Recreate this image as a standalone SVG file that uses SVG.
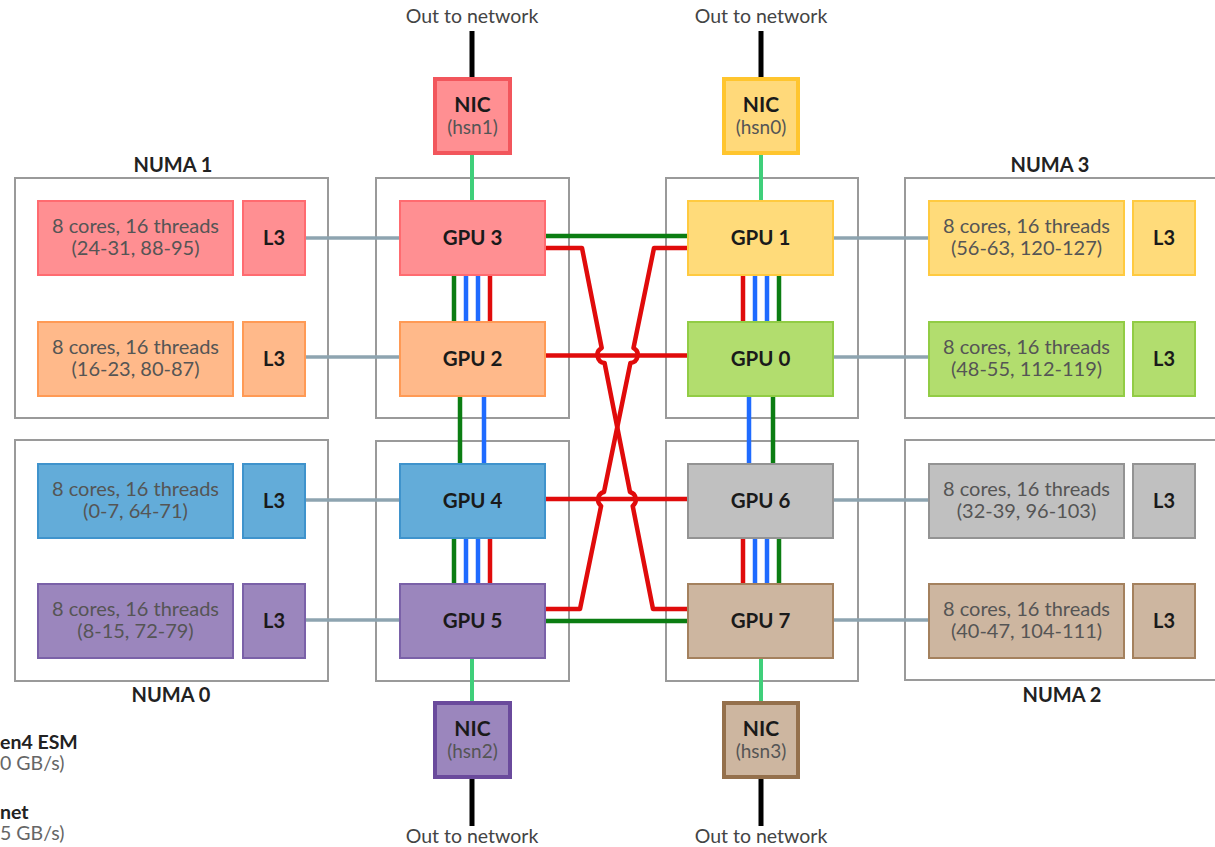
<svg xmlns="http://www.w3.org/2000/svg" width="1215" height="847" viewBox="0 0 1215 847">
<style>
text{font-family:Lato,"Open Sans","Liberation Sans",sans-serif}
.numa{fill:#fff;stroke:#9a9a9a;stroke-width:2}
.nl{font-size:20px;font-weight:bold;fill:#222;text-anchor:middle}
.gl{font-size:20.5px;font-weight:bold;fill:#1a1a1a;text-anchor:middle}
.l3{font-size:20px;font-weight:bold;fill:#1a1a1a;text-anchor:middle}
.ct{font-size:20px;fill:#555;text-anchor:middle}
.nic{font-size:21px;font-weight:bold;fill:#1a1a1a;text-anchor:middle}
.hsn{font-size:19px;fill:#555;text-anchor:middle}
.out{font-size:19.5px;fill:#444;text-anchor:middle}
.b{stroke-width:2}
.red{fill:#ff8f92;stroke:#ff6b70}
.org{fill:#ffb98a;stroke:#ff9a55}
.blu{fill:#63acd9;stroke:#3f93cc}
.pur{fill:#9b86bd;stroke:#7a61a8}
.yel{fill:#ffdb7a;stroke:#ffca40}
.grn{fill:#b2dd6e;stroke:#92cc45}
.gry{fill:#c0c0c0;stroke:#939393}
.brn{fill:#cdb6a0;stroke:#a4815e}
.cg{stroke:#8ea4b0;stroke-width:3.5;fill:none}
.lg{stroke:#0b7d12;stroke-width:4.5;fill:none}
.lb{stroke:#1f6bff;stroke-width:4.5;fill:none}
.lr{stroke:#e00b0b;stroke-width:4.5;fill:none;stroke-linejoin:round}
.nicg{stroke:#3fcf7a;stroke-width:4}
.blk{stroke:#000;stroke-width:5}
.lgb{font-size:19.5px;font-weight:bold;fill:#222}
.lgr{font-size:19.5px;fill:#666}
</style>

<!-- NUMA regions -->
<g id="numa-regions">
<rect class="numa" x="15" y="178" width="313" height="240"/>
<rect class="numa" x="15" y="440" width="313" height="241"/>
<rect class="numa" x="376" y="178" width="193" height="240"/>
<rect class="numa" x="376" y="441" width="193" height="240"/>
<rect class="numa" x="666" y="178" width="192" height="240"/>
<rect class="numa" x="666" y="441" width="192" height="240"/>
<rect class="numa" x="905" y="178" width="320" height="240"/>
<rect class="numa" x="905" y="440" width="320" height="240"/>
<text class="nl" x="173" y="172">NUMA 1</text>
<text class="nl" x="1050" y="172">NUMA 3</text>
<text class="nl" x="171" y="702">NUMA 0</text>
<text class="nl" x="1062" y="702">NUMA 2</text>
</g>

<!-- connectors -->
<g id="connectors">
<line class="blk" x1="472" y1="31" x2="472" y2="79"/>
<line class="blk" x1="761" y1="31" x2="761" y2="79"/>
<line class="blk" x1="472" y1="777" x2="472" y2="826"/>
<line class="blk" x1="761" y1="777" x2="761" y2="826"/>
<line class="nicg" x1="472" y1="153" x2="472" y2="201"/>
<line class="nicg" x1="761" y1="153" x2="761" y2="201"/>
<line class="nicg" x1="472" y1="658" x2="472" y2="703"/>
<line class="nicg" x1="761" y1="658" x2="761" y2="703"/>
<line class="cg" x1="305" y1="238" x2="400" y2="238"/>
<line class="cg" x1="305" y1="357" x2="400" y2="357"/>
<line class="cg" x1="305" y1="500" x2="400" y2="500"/>
<line class="cg" x1="305" y1="620" x2="400" y2="620"/>
<line class="cg" x1="833" y1="238" x2="929" y2="238"/>
<line class="cg" x1="833" y1="357" x2="929" y2="357"/>
<line class="cg" x1="833" y1="500" x2="929" y2="500"/>
<line class="cg" x1="833" y1="620" x2="929" y2="620"/>
<line class="lg" x1="454" y1="275" x2="454" y2="322"/>
<line class="lb" x1="466" y1="275" x2="466" y2="322"/>
<line class="lb" x1="478" y1="275" x2="478" y2="322"/>
<line class="lr" x1="490" y1="275" x2="490" y2="322"/>
<line class="lg" x1="460" y1="396" x2="460" y2="464"/>
<line class="lb" x1="484" y1="396" x2="484" y2="464"/>
<line class="lg" x1="454" y1="538" x2="454" y2="584"/>
<line class="lb" x1="466" y1="538" x2="466" y2="584"/>
<line class="lb" x1="478" y1="538" x2="478" y2="584"/>
<line class="lr" x1="490" y1="538" x2="490" y2="584"/>
<line class="lr" x1="743" y1="275" x2="743" y2="322"/>
<line class="lb" x1="755" y1="275" x2="755" y2="322"/>
<line class="lb" x1="767" y1="275" x2="767" y2="322"/>
<line class="lg" x1="779" y1="275" x2="779" y2="322"/>
<line class="lb" x1="749" y1="396" x2="749" y2="464"/>
<line class="lg" x1="773" y1="396" x2="773" y2="464"/>
<line class="lr" x1="743" y1="538" x2="743" y2="584"/>
<line class="lb" x1="755" y1="538" x2="755" y2="584"/>
<line class="lb" x1="767" y1="538" x2="767" y2="584"/>
<line class="lg" x1="779" y1="538" x2="779" y2="584"/>
<line class="lg" x1="545" y1="236" x2="688" y2="236"/>
<line class="lr" x1="545" y1="355.5" x2="688" y2="355.5"/>
<line class="lr" x1="545" y1="499" x2="688" y2="499"/>
<line class="lg" x1="545" y1="621" x2="688" y2="621"/>
<path class="lr" d="M545,248 H582 L601.7,348 A8 8 0 0 0 604.6,363 L630,492 A8 8 0 0 1 632.7,506 L653,609 H688"/>
<path class="lr" d="M688,248 H654 L633.5,348 A8 8 0 0 1 630.4,363 L604,492 A8 8 0 0 0 601.1,506 L580,609 H545"/>
</g>

<g id="cores-24-31"><rect class="b red" x="38" y="201" width="195" height="74"/><text class="ct" x="135.5" y="233">8 cores, 16 threads</text><text class="ct" x="135.5" y="255">(24-31, 88-95)</text></g>
<g id="l3-a"><rect class="b red" x="243" y="201" width="62" height="74"/><text class="l3" x="274" y="245">L3</text></g>
<g id="cores-16-23"><rect class="b org" x="38" y="322" width="195" height="74"/><text class="ct" x="135.5" y="354">8 cores, 16 threads</text><text class="ct" x="135.5" y="376">(16-23, 80-87)</text></g>
<g id="l3-b"><rect class="b org" x="243" y="322" width="62" height="74"/><text class="l3" x="274" y="366">L3</text></g>
<g id="cores-0-7"><rect class="b blu" x="38" y="464" width="195" height="74"/><text class="ct" x="135.5" y="496">8 cores, 16 threads</text><text class="ct" x="135.5" y="518">(0-7, 64-71)</text></g>
<g id="l3-c"><rect class="b blu" x="243" y="464" width="62" height="74"/><text class="l3" x="274" y="508">L3</text></g>
<g id="cores-8-15"><rect class="b pur" x="38" y="584" width="195" height="74"/><text class="ct" x="135.5" y="616">8 cores, 16 threads</text><text class="ct" x="135.5" y="638">(8-15, 72-79)</text></g>
<g id="l3-d"><rect class="b pur" x="243" y="584" width="62" height="74"/><text class="l3" x="274" y="628">L3</text></g>
<g id="cores-56-63"><rect class="b yel" x="929" y="201" width="195" height="74"/><text class="ct" x="1026.5" y="233">8 cores, 16 threads</text><text class="ct" x="1026.5" y="255">(56-63, 120-127)</text></g>
<g id="l3-e"><rect class="b yel" x="1133" y="201" width="62" height="74"/><text class="l3" x="1164" y="245">L3</text></g>
<g id="cores-48-55"><rect class="b grn" x="929" y="322" width="195" height="74"/><text class="ct" x="1026.5" y="354">8 cores, 16 threads</text><text class="ct" x="1026.5" y="376">(48-55, 112-119)</text></g>
<g id="l3-f"><rect class="b grn" x="1133" y="322" width="62" height="74"/><text class="l3" x="1164" y="366">L3</text></g>
<g id="cores-32-39"><rect class="b gry" x="929" y="464" width="195" height="74"/><text class="ct" x="1026.5" y="496">8 cores, 16 threads</text><text class="ct" x="1026.5" y="518">(32-39, 96-103)</text></g>
<g id="l3-g"><rect class="b gry" x="1133" y="464" width="62" height="74"/><text class="l3" x="1164" y="508">L3</text></g>
<g id="cores-40-47"><rect class="b brn" x="929" y="584" width="195" height="74"/><text class="ct" x="1026.5" y="616">8 cores, 16 threads</text><text class="ct" x="1026.5" y="638">(40-47, 104-111)</text></g>
<g id="l3-h"><rect class="b brn" x="1133" y="584" width="62" height="74"/><text class="l3" x="1164" y="628">L3</text></g>

<g id="gpu3"><rect class="b red" x="400" y="201" width="145" height="74"/><text class="gl" x="472.5" y="245">GPU 3</text></g>
<g id="gpu2"><rect class="b org" x="400" y="322" width="145" height="74"/><text class="gl" x="472.5" y="366">GPU 2</text></g>
<g id="gpu4"><rect class="b blu" x="400" y="464" width="145" height="74"/><text class="gl" x="472.5" y="508">GPU 4</text></g>
<g id="gpu5"><rect class="b pur" x="400" y="584" width="145" height="74"/><text class="gl" x="472.5" y="628">GPU 5</text></g>
<g id="gpu1"><rect class="b yel" x="688" y="201" width="145" height="74"/><text class="gl" x="760.5" y="245">GPU 1</text></g>
<g id="gpu0"><rect class="b grn" x="688" y="322" width="145" height="74"/><text class="gl" x="760.5" y="366">GPU 0</text></g>
<g id="gpu6"><rect class="b gry" x="688" y="464" width="145" height="74"/><text class="gl" x="760.5" y="508">GPU 6</text></g>
<g id="gpu7"><rect class="b brn" x="688" y="584" width="145" height="74"/><text class="gl" x="760.5" y="628">GPU 7</text></g>

<g id="nic-hsn1"><rect x="435" y="79" width="75" height="74" fill="#ff8f92" stroke="#f2565c" stroke-width="4"/><text class="nic" x="472.5" y="112">NIC</text><text class="hsn" x="472.5" y="134">(hsn1)</text></g>
<g id="nic-hsn0"><rect x="724" y="79" width="74" height="74" fill="#ffd97a" stroke="#ffc52e" stroke-width="4"/><text class="nic" x="761" y="112">NIC</text><text class="hsn" x="761" y="134">(hsn0)</text></g>
<g id="nic-hsn2"><rect x="435" y="703" width="75" height="74" fill="#9b86bd" stroke="#6a4a9c" stroke-width="4"/><text class="nic" x="472.5" y="736">NIC</text><text class="hsn" x="472.5" y="758">(hsn2)</text></g>
<g id="nic-hsn3"><rect x="724" y="703" width="74" height="74" fill="#cdb6a0" stroke="#94704c" stroke-width="4"/><text class="nic" x="761" y="736">NIC</text><text class="hsn" x="761" y="758">(hsn3)</text></g>

<g id="net-labels">
<text class="out" x="472" y="23">Out to network</text>
<text class="out" x="761" y="23">Out to network</text>
<text class="out" x="472" y="843">Out to network</text>
<text class="out" x="761" y="843">Out to network</text>
</g>

<g id="legend">
<text class="lgb" x="0" y="749">en4 ESM</text>
<text class="lgr" x="0" y="770">0 GB/s)</text>
<text class="lgb" x="0" y="819">net</text>
<text class="lgr" x="0" y="840">5 GB/s)</text>
</g>
</svg>
